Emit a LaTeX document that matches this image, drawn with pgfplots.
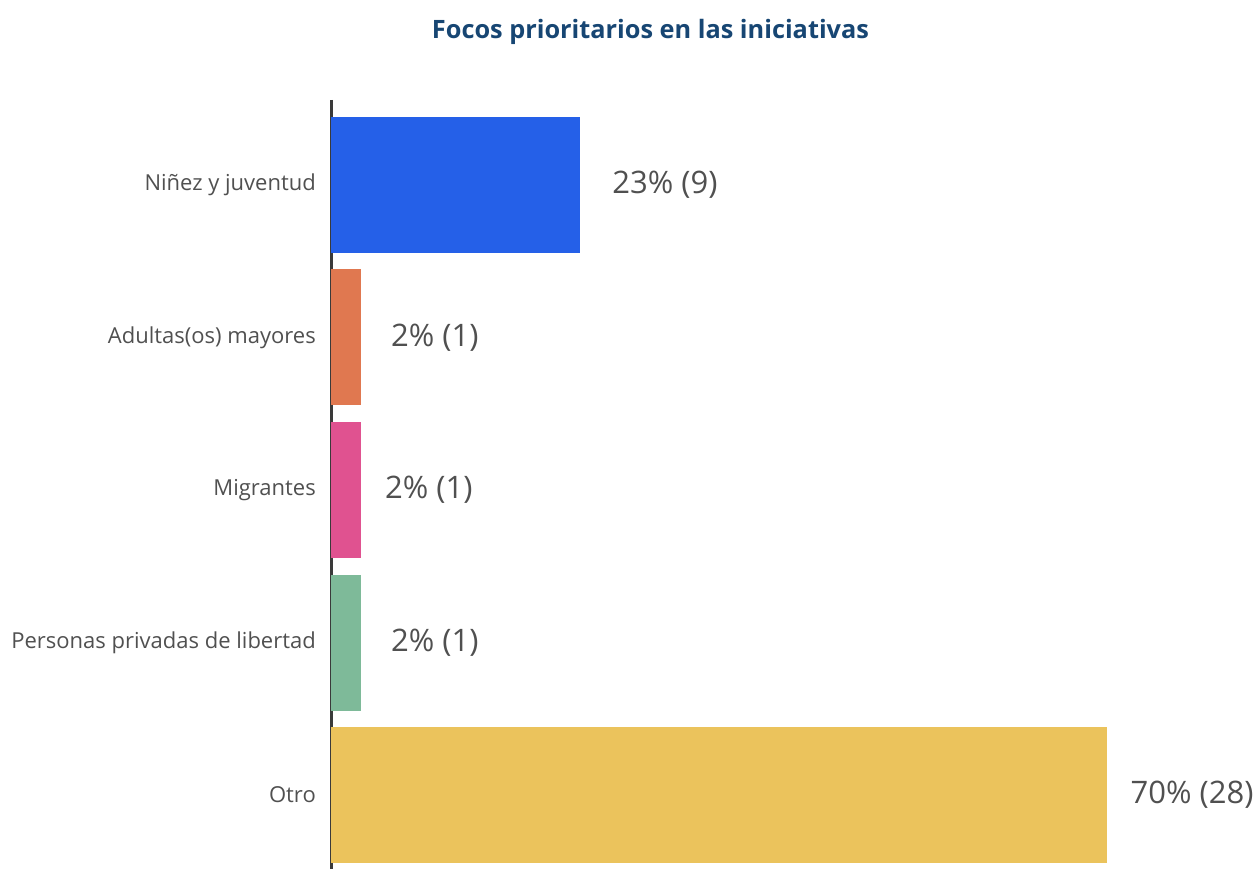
\documentclass[border=0pt]{standalone}
\usepackage{pgfplots}
\pgfplotsset{compat=1.18}
\usepackage{fontspec}
\setmainfont{Open Sans}
\definecolor{cblue}{RGB}{37,96,232}
\definecolor{corange}{RGB}{224,120,80}
\definecolor{cpink}{RGB}{224,82,144}
\definecolor{cgreen}{RGB}{126,186,153}
\definecolor{cyellow}{RGB}{235,195,92}
\definecolor{ctitle}{RGB}{23,70,115}
\definecolor{ctext}{RGB}{80,80,80}
\definecolor{caxis}{RGB}{58,58,58}
\begin{document}
\begin{tikzpicture}[x=1bp,y=1bp]
\useasboundingbox (0,0) rectangle (1258,869);
\node[font=\fontsize{25.3bp}{30bp}\selectfont\bfseries, text=ctitle, anchor=base] at (650.5,830) {Focos prioritarios en las iniciativas};
\begin{axis}[
 at={(331bp,0bp)}, anchor=south west,
 scale only axis, width=927bp, height=769bp,
 xmin=0, xmax=33.47,
 ymin=-0.557, ymax=4.485, y dir=reverse,
 xbar, bar width=136bp, bar shift=0pt,
 axis x line=none, axis y line=left,
 axis line style={-, line width=3bp, draw=caxis},
 ytick={0,1,2,3,4},
 yticklabels={Niñez y juventud, Adultas(os) mayores, Migrantes, Personas privadas de libertad, Otro},
 major tick length=0pt,
 yticklabel style={font=\fontsize{22bp}{26bp}\selectfont, text=ctext, inner sep=0pt, xshift=-15bp},
 nodes near coords, point meta=explicit symbolic,
 every node near coord/.append style={font=\fontsize{31bp}{36bp}\selectfont, text=ctext, anchor=west, inner sep=0pt},
 clip=false,
]
\addplot[fill=cblue, draw=none, every node near coord/.append style={xshift=32bp}] coordinates {(9,0) [23\% (9)]};
\addplot[fill=corange, draw=none, every node near coord/.append style={xshift=30bp}] coordinates {(1.08,1) [2\% (1)]};
\addplot[fill=cpink, draw=none, every node near coord/.append style={xshift=24bp}] coordinates {(1.08,2) [2\% (1)]};
\addplot[fill=cgreen, draw=none, every node near coord/.append style={xshift=30bp}] coordinates {(1.08,3) [2\% (1)]};
\addplot[fill=cyellow, draw=none, every node near coord/.append style={xshift=24bp}] coordinates {(28,4) [70\% (28)]};
\end{axis}
\end{tikzpicture}
\end{document}
